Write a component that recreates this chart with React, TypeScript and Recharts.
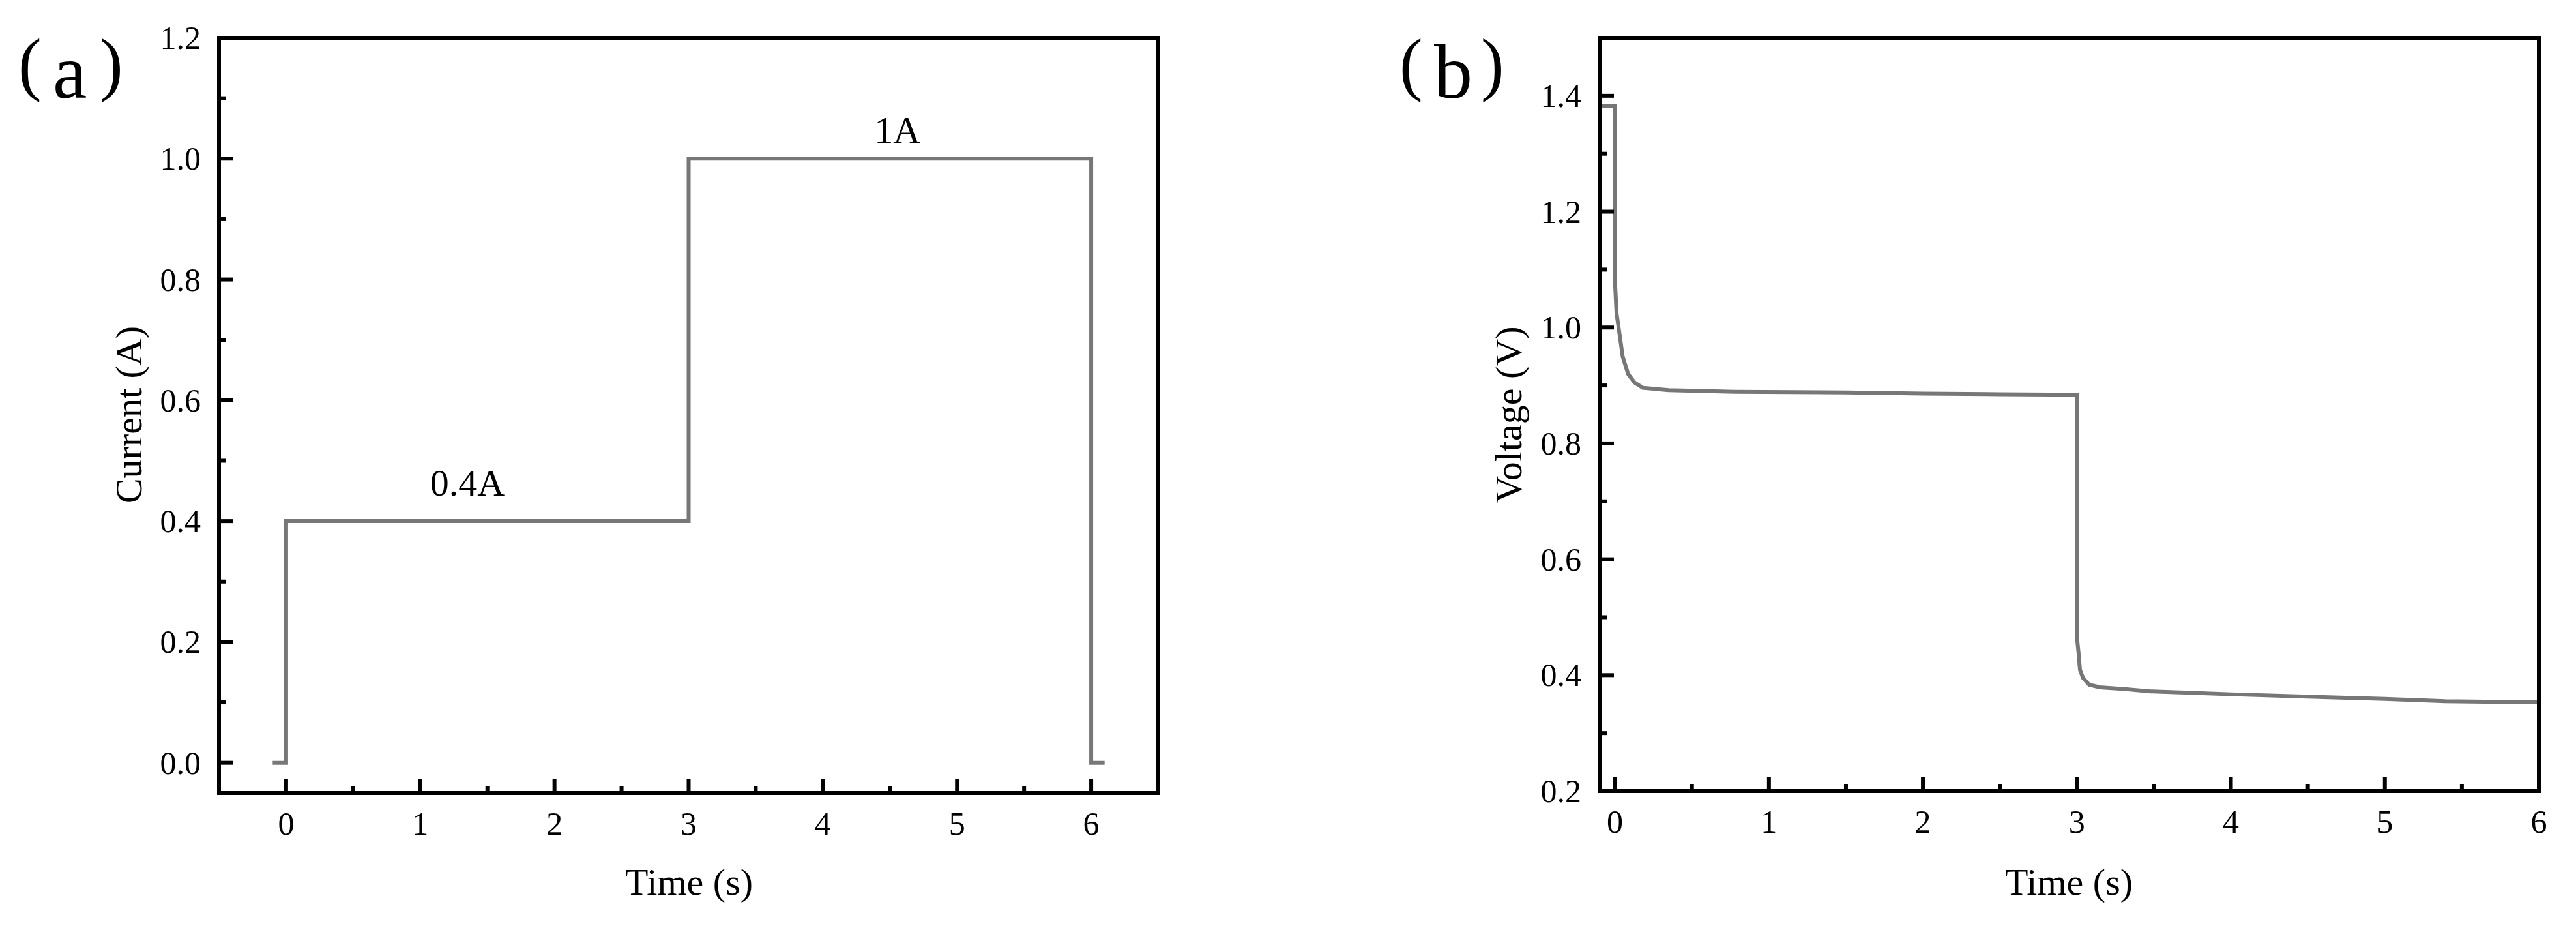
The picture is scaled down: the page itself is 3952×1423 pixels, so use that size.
import React from 'react';
import { LineChart, Line, XAxis, YAxis, ReferenceDot } from 'recharts';

// ---------- data: panel (a) current step profile ----------
const timeA = [-0.1, 0, 0, 3, 3, 6, 6, 6.1];
const currentA = [0, 0, 0.4, 0.4, 1.0, 1.0, 0, 0];
const xTicksA = [0, 0.5, 1, 1.5, 2, 2.5, 3, 3.5, 4, 4.5, 5, 5.5, 6];
const yTicksA = [0, 0.1, 0.2, 0.3, 0.4, 0.5, 0.6, 0.7, 0.8, 0.9, 1.0, 1.1, 1.2];
const annotText = ['0.4A', '1A'];
const annotX = [1.35, 4.555];
const annotY = [0.442, 1.026];

// ---------- data: panel (b) voltage response ----------
const timeB = [-0.1, 0, 0, 0.01, 0.03, 0.05, 0.085, 0.127, 0.18, 0.35, 0.775, 1.5, 2, 2.5, 2.99, 3.0, 3.0, 3.0, 3.01, 3.02, 3.04, 3.08, 3.15, 3.31, 3.48, 3.7, 4, 4.5, 5, 5.39, 6, 6];
const voltageB = [1.382, 1.382, 1.08, 1.025, 0.988, 0.95, 0.92, 0.905, 0.896, 0.892, 0.889, 0.888, 0.886, 0.885, 0.884, 0.884, 0.552, 0.466, 0.44, 0.409, 0.395, 0.3835, 0.379, 0.376, 0.372, 0.37, 0.367, 0.363, 0.359, 0.355, 0.353, 0.6];
const xTicksB = [0, 0.5, 1, 1.5, 2, 2.5, 3, 3.5, 4, 4.5, 5, 5.5, 6];
const yTicksB = [0.2, 0.3, 0.4, 0.5, 0.6, 0.7, 0.8, 0.9, 1.0, 1.1, 1.2, 1.3, 1.4];

const dataA = timeA.map((t, i) => ({ t, v: currentA[i] }));
const dataB = timeB.map((t, i) => ({ t, v: voltageB[i] }));

const FONT = "'Liberation Serif', 'Times New Roman', serif";
const LINE = '#777777';
const TICK_FS = 50;
const TITLE_FS = 58;
const SW = 6;

const isMajorX = (v: number) => Math.abs(v - Math.round(v)) < 1e-6;
const isMajorY = (v: number) => Math.abs(v * 5 - Math.round(v * 5)) < 1e-6;

const XTick = (props: any) => {
  const { x, y, payload } = props;
  const major = isMajorX(payload.value);
  return (
    <g>
      <line x1={x} x2={x} y1={y} y2={y - (major ? 22 : 11)} stroke="#000" strokeWidth={SW} />
      {major && (
        <text x={x} y={y + 64} textAnchor="middle" fontFamily={FONT} fontSize={TICK_FS} fill="#000">
          {String(Math.round(payload.value))}
        </text>
      )}
    </g>
  );
};

const YTick = (props: any) => {
  const { x, y, payload } = props;
  const major = isMajorY(payload.value);
  return (
    <g>
      <line x1={x} x2={x + (major ? 22 : 11)} y1={y} y2={y} stroke="#000" strokeWidth={SW} />
      {major && (
        <text x={x - 28} y={y + 17} textAnchor="end" fontFamily={FONT} fontSize={TICK_FS} fill="#000">
          {payload.value.toFixed(1)}
        </text>
      )}
    </g>
  );
};

const AnnotShape = (text: string) => (props: any) => (
  <text x={props.cx} y={props.cy} textAnchor="middle" fontFamily={FONT} fontSize={TITLE_FS} fill="#000">
    {text}
  </text>
);

const frameLine = { stroke: '#000', strokeWidth: SW, strokeLinecap: 'square' as const };

const PanelLabel = ({ x0, letter }: { x0: number; letter: string }) => (
  <g fontFamily={FONT} fill="#000">
    <text x={x0} y={134} fontSize={107}>(</text>
    <text x={x0 + 53} y={150} fontSize={118}>{letter}</text>
    <text x={x0 + 125} y={134} fontSize={107}>)</text>
  </g>
);

export default function App() {
  return (
    <div style={{ position: 'absolute', left: 0, top: 0, width: 3952, height: 1423, background: '#fff', overflow: 'hidden' }}>
      <div style={{ position: 'absolute', left: 0, top: 0 }}>
        <LineChart width={1900} height={1423} data={dataA} margin={{ top: 57, right: 122, bottom: 107, left: 236 }}>
          <XAxis dataKey="t" type="number" domain={[-0.5, 6.5]} ticks={xTicksA} interval={0} allowDataOverflow
            height={100} tickSize={0} tickMargin={0} tickLine={false} tick={<XTick />} axisLine={frameLine} />
          <XAxis xAxisId="top" orientation="top" type="number" domain={[-0.5, 6.5]} height={1} tick={false} tickLine={false} axisLine={frameLine} />
          <YAxis type="number" domain={[-0.05, 1.2]} ticks={yTicksA} interval={0} allowDataOverflow
            width={100} tickSize={0} tickMargin={0} tickLine={false} tick={<YTick />} axisLine={frameLine} />
          <YAxis yAxisId="right" orientation="right" type="number" domain={[-0.05, 1.2]} width={1} tick={false} tickLine={false} axisLine={frameLine} />
          <Line dataKey="v" type="linear" stroke={LINE} strokeWidth={SW} dot={false} isAnimationActive={false} />
          {annotText.map((s, i) => (
            <ReferenceDot key={s} x={annotX[i]} y={annotY[i]} r={0} shape={AnnotShape(s)} />
          ))}
        </LineChart>
      </div>
      <div style={{ position: 'absolute', left: 2000, top: 0 }}>
        <LineChart width={1952} height={1423} data={dataB} margin={{ top: 57, right: 56, bottom: 110, left: 354 }}>
          <XAxis dataKey="t" type="number" domain={[-0.1, 6]} ticks={xTicksB} interval={0} allowDataOverflow
            height={100} tickSize={0} tickMargin={0} tickLine={false} tick={<XTick />} axisLine={frameLine} />
          <XAxis xAxisId="top" orientation="top" type="number" domain={[-0.1, 6]} height={1} tick={false} tickLine={false} axisLine={frameLine} />
          <YAxis type="number" domain={[0.2, 1.5]} ticks={yTicksB} interval={0} allowDataOverflow
            width={100} tickSize={0} tickMargin={0} tickLine={false} tick={<YTick />} axisLine={frameLine} />
          <YAxis yAxisId="right" orientation="right" type="number" domain={[0.2, 1.5]} width={1} tick={false} tickLine={false} axisLine={frameLine} />
          <Line dataKey="v" type="linear" stroke={LINE} strokeWidth={SW} dot={false} isAnimationActive={false} />
        </LineChart>
      </div>
      <svg style={{ position: 'absolute', left: 0, top: 0, pointerEvents: 'none' }} width={3952} height={1423}>
        <PanelLabel x0={28} letter="a" />
        <PanelLabel x0={2147} letter="b" />
        <text x={1057} y={1372} textAnchor="middle" fontFamily={FONT} fontSize={TITLE_FS} fill="#000">Time (s)</text>
        <text x={3174} y={1372} textAnchor="middle" fontFamily={FONT} fontSize={TITLE_FS} fill="#000">Time (s)</text>
        <text transform="translate(217,636) rotate(-90)" textAnchor="middle" fontFamily={FONT} fontSize={TITLE_FS} fill="#000">Current (A)</text>
        <text transform="translate(2334,636) rotate(-90)" textAnchor="middle" fontFamily={FONT} fontSize={TITLE_FS} fill="#000">Voltage (V)</text>
      </svg>
    </div>
  );
}
